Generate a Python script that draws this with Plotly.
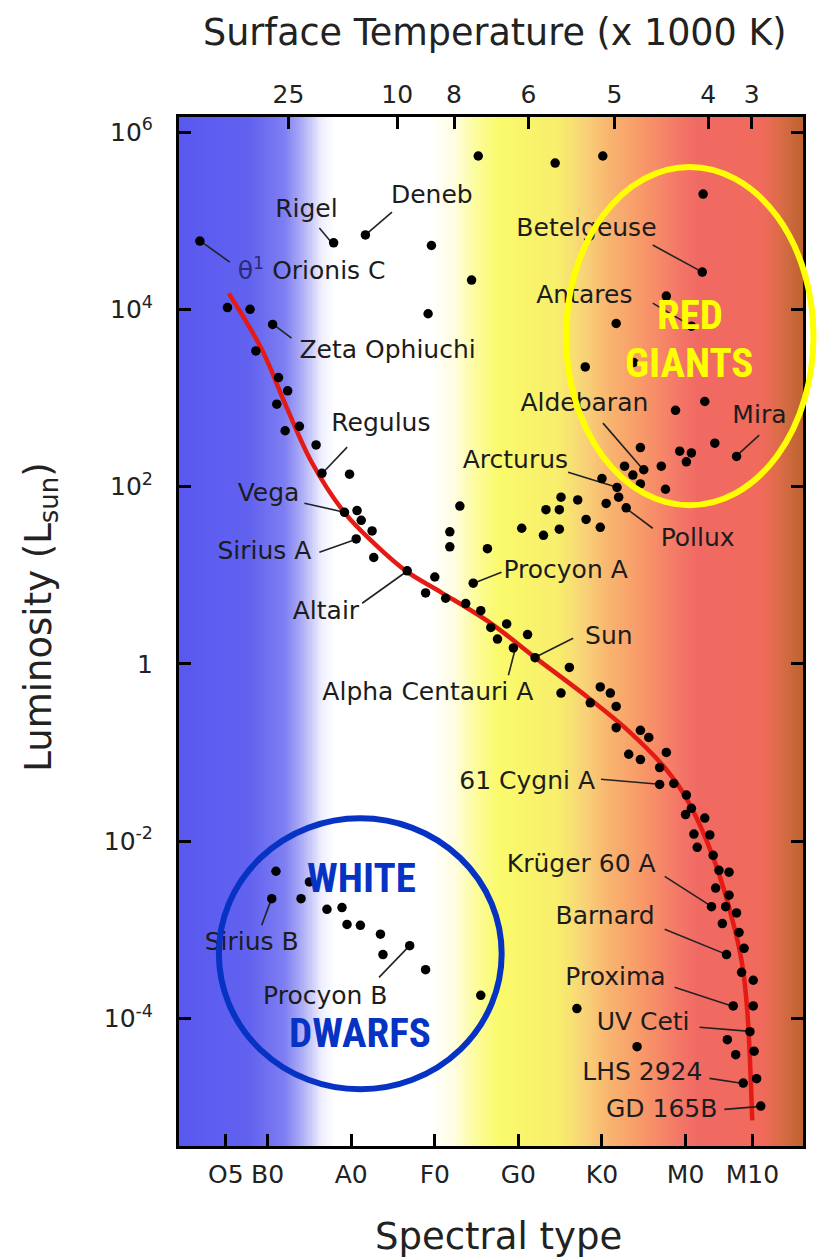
import numpy as np
import plotly.graph_objects as go

# ---------------- data (spectral index: O0=0, B0=10, A0=20, F0=30, G0=40, K0=50, M0=60) ----------------
# main-sequence stars: spectral index and log10(L/Lsun)
ms_type = [5.2, 7.9, 10.6, 8.6, 11.3, 12.4, 11.1, 12.1, 13.8, 15.8, 16.5, 19.8, 19.2, 20.7, 21.2,
           22.5, 20.6, 22.7, 26.7, 30.0, 28.9, 31.3, 33.7, 35.5, 36.7, 38.6, 37.5, 41.1, 39.4, 42.0,
           46.1, 45.1, 49.8, 51.0, 48.6, 51.7, 51.7, 54.6, 55.6, 53.2, 54.6, 57.7, 56.9, 56.9, 58.6,
           60.1, 60.7, 60.0, 62.3, 61.0, 62.9, 61.4, 63.3, 64.0, 65.2, 63.6, 65.2, 63.1, 64.8, 66.1,
           64.4, 66.4, 67.0, 64.9, 66.7, 68.1, 65.7, 68.1, 67.7, 65.0, 68.2, 66.0, 68.5, 66.9, 69.0,
           47.0, 54.2]
ms_logL = [4.02, 4.00, 3.83, 3.53, 3.23, 3.08, 2.93, 2.63, 2.68, 2.47, 2.15, 2.14, 1.71, 1.73, 1.62,
           1.50, 1.41, 1.20, 1.05, 0.98, 0.80, 0.74, 0.68, 0.60, 0.41, 0.45, 0.28, 0.33, 0.18, 0.07,
           -0.04, -0.33, -0.26, -0.33, -0.44, -0.48, -0.72, -0.75, -0.83, -1.02, -1.08, -1.00, -1.17, -1.36, -1.35,
           -1.48, -1.63, -1.70, -1.74, -1.92, -1.93, -2.07, -2.16, -2.33, -2.35, -2.53, -2.61, -2.74, -2.74, -2.81,
           -2.93, -3.03, -3.21, -3.28, -3.48, -3.57, -3.86, -3.86, -4.15, -4.24, -4.37, -4.41, -4.68, -4.73, -4.99,
           -3.89, -4.32]

# giants and supergiants
giant_type = [35.2, 44.4, 50.1, 62.1, 1.9, 17.9, 21.7, 29.6, 34.4, 29.2, 62.0, 57.7, 60.7, 51.7, 48.0,
              53.8, 58.8, 62.3, 54.6, 59.3, 60.7, 60.1, 63.5, 66.1, 52.7, 55.0, 57.1, 53.7, 50.0, 51.8,
              54.6, 57.6, 52.0, 52.9, 45.1, 47.1, 50.5, 43.3, 44.9, 48.1, 49.8, 40.4, 43.0, 44.9, 33.0,
              31.8, 31.8, 36.3, 34.6]
giant_logL = [5.73, 5.65, 5.73, 5.30, 4.77, 4.75, 4.84, 4.72, 4.33, 3.95, 4.42, 4.15, 3.81, 3.84, 3.35,
              3.40, 2.86, 2.96, 2.44, 2.40, 2.38, 2.28, 2.49, 2.34, 2.23, 2.19, 2.23, 2.13, 2.09, 1.99,
              2.03, 1.97, 1.88, 1.76, 1.88, 1.85, 1.81, 1.74, 1.74, 1.63, 1.54, 1.53, 1.45, 1.52, 1.78,
              1.49, 1.32, 1.30, 0.91]

# white dwarfs
wd_type = [11.0, 15.0, 10.5, 14.0, 17.1, 18.9, 19.5, 21.1, 23.5, 23.8, 27.0, 28.9, 35.5]
wd_logL = [-2.34, -2.46, -2.65, -2.65, -2.77, -2.75, -2.94, -2.95, -3.05, -3.28, -3.18, -3.45, -3.74]

# main-sequence curve
curve_type = [5.36, 9.40, 12.02, 15.24, 19.17, 22.74, 26.67, 30.71, 36.67, 42.02, 48.33, 53.10,
              57.50, 60.24, 63.45, 65.83, 66.79, 67.38, 67.98]
curve_logL = [4.18, 3.53, 2.95, 2.28, 1.71, 1.36, 1.04, 0.81, 0.46, 0.07, -0.38, -0.75,
              -1.17, -1.54, -2.22, -2.97, -3.40, -3.91, -5.15]

# axes
spec_ticks = [5, 10, 20, 30, 40, 50, 60, 68]
spec_labels = ["O5", "B0", "A0", "F0", "G0", "K0", "M0", "M10"]
temp_pos = [12.5, 25.5, 32.3, 41.2, 51.5, 62.7, 67.9]
temp_labels = ["25", "10", "8", "6", "5", "4", "3"]
lum_exps = [6, 4, 2, 0, -2, -4]
x_range = [-0.6, 74.05]
y_range = [-5.44, 6.17]

# star labels
label_names = ["Rigel", "Deneb", "<span style='color:#2a2a78'>θ<sup>1</sup></span> Orionis C", "Zeta Ophiuchi",
               "Regulus", "Vega", "Sirius A", "Altair", "Procyon A", "Sun", "Alpha Centauri A",
               "61 Cygni A", "Betelgeuse", "Antares", "Aldebaran", "Arcturus", "Pollux", "Mira",
               "Krüger 60 A", "Barnard", "Proxima", "UV Ceti", "LHS 2924", "GD 165B",
               "Sirius B", "Procyon B"]
label_x = [14.64, 29.64, 6.43, 13.81, 17.62, 13.81, 15.24, 20.95, 38.21, 47.98, 16.55, 49.17,
           39.76, 42.14, 40.24, 45.95, 57.02, 65.60, 56.43, 56.31, 57.62, 60.48, 62.02, 63.81,
           8.10, 16.90]
label_y = [5.108, 5.266, 4.409, 3.517, 2.693, 1.903, 1.248, 0.582, 1.034, 0.289, -0.332, -1.336,
           4.894, 4.138, 2.919, 2.275, 1.395, 2.783, -2.273, -2.860, -3.548, -4.056, -4.621, -5.038,
           -3.153, -3.763]
label_pos = ["middle center", "middle center", "middle right", "middle right", "middle right",
             "middle left", "middle left", "middle left", "middle right", "middle right", "middle right",
             "middle left", "middle right", "middle right", "middle right", "middle left", "middle right",
             "middle right", "middle left", "middle left", "middle left", "middle left", "middle left",
             "middle left", "middle center", "middle center"]
ptr_x0 = [16.19, 24.88, 2.14, 10.48, 19.52, 14.40, 16.19, 21.31, 34.64, 42.02, 39.64, 49.88,
          56.07, 56.07, 50.12, 45.95, 52.86, 68.81, 57.50, 57.50, 58.69, 61.67, 62.86, 64.64,
          10.48, 27.02]
ptr_y0 = [4.917, 5.097, 4.758, 3.844, 2.445, 1.813, 1.260, 0.684, 0.910, 0.074, 0.176, -1.302,
          4.725, 4.070, 2.716, 2.163, 1.756, 2.580, -2.397, -2.995, -3.650, -4.101, -4.677, -5.027,
          -2.646, -3.176]
ptr_x1 = [17.62, 21.67, 5.48, 12.86, 16.55, 19.17, 20.60, 26.67, 37.98, 46.55, 38.81, 56.90,
          62.02, 60.71, 55.0, 51.79, 56.07, 66.07, 63.10, 64.88, 65.71, 67.74, 66.90, 69.05,
          9.29, 23.33]
ptr_y1 = [4.758, 4.837, 4.533, 3.675, 2.151, 1.711, 1.406, 1.045, 1.034, 0.289, -0.129, -1.359,
          4.420, 3.810, 2.185, 1.993, 1.530, 2.343, -2.736, -3.278, -3.865, -4.147, -4.734, -4.993,
          -2.950, -3.537]

# highlighted regions (spectral index range, log L range)
giants_box = [45.7, 75.3, 1.79, 5.605]
dwarfs_box = [4.17, 38.0, -4.80, -1.743]

# background colour stops along the spectral axis (fraction of axis, colour)
bg_stops = [[0.0, "#5858f0"], [0.113, "#6262f0"], [0.169, "#7e7ef2"], [0.201, "#b4b4f8"],
            [0.228, "#eeeefe"], [0.249, "#ffffff"], [0.404, "#ffffff"], [0.440, "#fffde2"],
            [0.477, "#fcfc9a"], [0.512, "#fafa6c"], [0.608, "#f8ee6c"], [0.648, "#f8d478"],
            [0.687, "#f8b670"], [0.743, "#f89868"], [0.799, "#f47868"], [0.831, "#f06a64"],
            [0.935, "#f06a5c"], [0.962, "#dc6c48"], [0.984, "#c8683a"], [1.0, "#c0622e"]]


def to_paper_x(s):
    return (s - x_range[0]) / (x_range[1] - x_range[0])


def to_paper_y(logl):
    return (logl - y_range[0]) / (y_range[1] - y_range[0])


# ---------------- figure ----------------
LABEL_FONT = "DejaVu Sans"
fig = go.Figure()

xe = np.linspace(x_range[0], x_range[1], 401)
xc = (xe[:-1] + xe[1:]) / 2
fig.add_trace(go.Heatmap(x=xe, y=[10 ** y_range[0], 10 ** y_range[1]], z=[xc],
                         colorscale=bg_stops, zmin=x_range[0], zmax=x_range[1],
                         showscale=False, hoverinfo="skip"))

fig.add_trace(go.Scatter(x=curve_type, y=[10 ** v for v in curve_logL], mode="lines",
                         line=dict(color="#e41a14", width=4.5, shape="spline", smoothing=1.0),
                         hoverinfo="skip", showlegend=False))

px_, py_ = [], []
for a, b, c, d in zip(ptr_x0, ptr_y0, ptr_x1, ptr_y1):
    px_ += [a, c, None]
    py_ += [10 ** b, 10 ** d, None]
fig.add_trace(go.Scatter(x=px_, y=py_, mode="lines", line=dict(color="#222222", width=1.6),
                         hoverinfo="skip", showlegend=False))

for xs, ys in [(ms_type, ms_logL), (giant_type, giant_logL), (wd_type, wd_logL)]:
    fig.add_trace(go.Scatter(x=xs, y=[10 ** v for v in ys], mode="markers",
                             marker=dict(color="black", size=9.5, line=dict(width=0)),
                             hoverinfo="skip", showlegend=False))

fig.add_trace(go.Scatter(x=label_x, y=[10 ** v for v in label_y], mode="text", text=label_names,
                         textposition=label_pos,
                         textfont=dict(family=LABEL_FONT, size=25, color="#1c1c1c"),
                         hoverinfo="skip", showlegend=False))

# dummy trace to carry the top temperature axis
fig.add_trace(go.Scatter(x=[temp_pos[0]], y=[1], xaxis="x2", mode="markers",
                         marker=dict(opacity=0), hoverinfo="skip", showlegend=False))

# region outlines (paper coordinates so the giant ellipse may cross the frame)
fig.add_shape(type="circle", xref="paper", yref="paper", layer="above",
              x0=to_paper_x(giants_box[0]), x1=to_paper_x(giants_box[1]),
              y0=to_paper_y(giants_box[2]), y1=to_paper_y(giants_box[3]),
              line=dict(color="#ffff00", width=6))
fig.add_shape(type="circle", xref="paper", yref="paper", layer="above",
              x0=to_paper_x(dwarfs_box[0]), x1=to_paper_x(dwarfs_box[1]),
              y0=to_paper_y(dwarfs_box[2]), y1=to_paper_y(dwarfs_box[3]),
              line=dict(color="#0633c4", width=6))

BIG = "Liberation Sans Narrow, Arial Narrow, Roboto Condensed, Liberation Sans, Arial"
for txt, x, y, col in [("RED", 60.48, 3.935, "#ffff00"), ("GIANTS", 60.48, 3.393, "#ffff00"),
                       ("WHITE", 21.19, -2.420, "#0633c4"), ("DWARFS", 21.07, -4.169, "#0633c4")]:
    fig.add_annotation(x=x, y=y, xref="x", yref="y", text="<b>%s</b>" % txt, showarrow=False,
                       font=dict(family=BIG, size=41, color=col))

fig.add_annotation(x=0.507, y=1.0826, xref="paper", yref="paper", text="Surface Temperature (x 1000 K)",
                   showarrow=False, font=dict(family=LABEL_FONT, size=36.5, color="#222222"),
                   xanchor="center", yanchor="middle")
fig.add_annotation(x=0.512, y=-0.0884, xref="paper", yref="paper", text="Spectral type",
                   showarrow=False, font=dict(family=LABEL_FONT, size=37, color="#222222"),
                   xanchor="center", yanchor="middle")
fig.add_annotation(x=-0.2217, y=0.514, xref="paper", yref="paper", text="Luminosity (L<sub>sun</sub>)",
                   showarrow=False, font=dict(family=LABEL_FONT, size=37, color="#222222"),
                   textangle=-90, xanchor="center", yanchor="middle")

TICK_FONT = dict(family=LABEL_FONT, size=25, color="#222222")
fig.update_layout(
    width=817, height=1260,
    margin=dict(l=179, r=11, t=117, b=114),
    paper_bgcolor="white", plot_bgcolor="white",
    showlegend=False, hovermode=False,
    xaxis=dict(range=x_range, tickvals=spec_ticks, ticktext=spec_labels, ticks="inside",
               ticklen=12, tickwidth=2.5, tickcolor="black", showline=True, linewidth=3,
               linecolor="black", mirror=True, showgrid=False, zeroline=False,
               tickfont=TICK_FONT, ticklabelstandoff=4),
    xaxis2=dict(range=x_range, overlaying="x", side="top", anchor="y", tickvals=temp_pos,
                ticktext=temp_labels, ticks="inside", ticklen=12, tickwidth=2.5, tickcolor="black",
                showline=False, showgrid=False, zeroline=False, tickfont=TICK_FONT,
                ticklabelstandoff=8),
    yaxis=dict(type="log", range=y_range, tickvals=[10 ** e for e in lum_exps],
               ticktext=["1" if e == 0 else "10<sup>%d</sup>" % e for e in lum_exps],
               ticks="inside", ticklen=12, tickwidth=2.5, tickcolor="black", showline=True,
               linewidth=3, linecolor="black", mirror="ticks", showgrid=False, zeroline=False,
               tickfont=TICK_FONT, ticklabelstandoff=18),
)

fig.write_html("out.html")
